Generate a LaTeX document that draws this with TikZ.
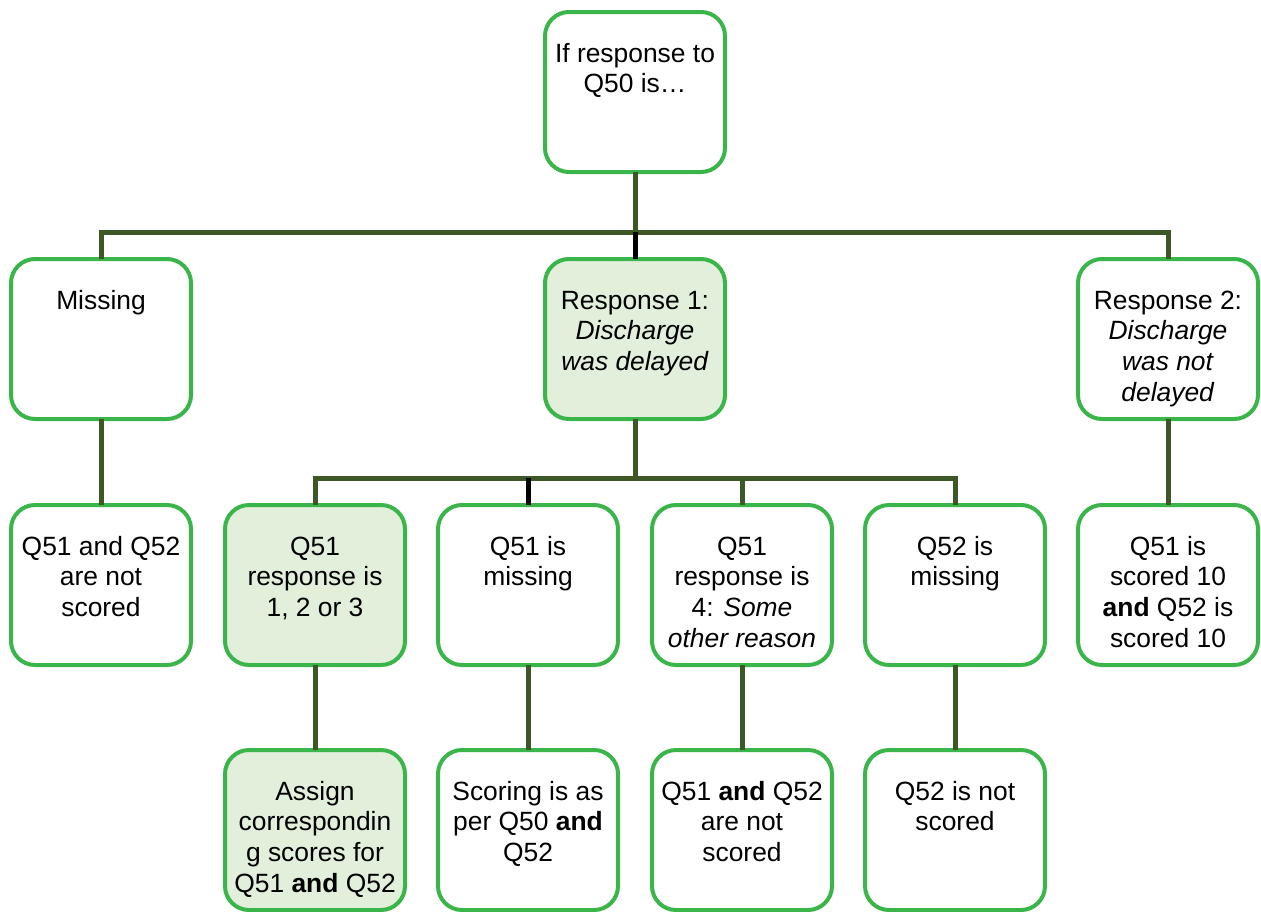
\documentclass[tikz,border=0pt]{standalone}
\usepackage{fontspec}
\setmainfont{Liberation Sans}
\definecolor{boxgreen}{RGB}{57,181,74}
\definecolor{boxfill}{RGB}{226,239,218}
\definecolor{connc}{RGB}{61,87,39}
\newcommand{\boxtext}[1]{\parbox[c][160pt][t]{180pt}{\centering\rule{0pt}{50pt}#1\par}}
\begin{document}
\begin{tikzpicture}[x=1pt,y=-1pt,
  box/.style={draw=boxgreen, line width=4pt, rounded corners=24pt, fill=white,
    minimum width=180pt, minimum height=160pt, inner sep=0pt, outer sep=0pt,
    font=\fontsize{26.4}{30.7}\selectfont},
  hl/.style={box, fill=boxfill},
  conn/.style={draw=connc, line width=5pt},
  connk/.style={draw=black, line width=5pt}]
\useasboundingbox (0,0) rectangle (1261,911);
\coordinate (b1) at (635,232);
\coordinate (b2) at (635,478);
% nodes
\node[box] (top) at (635,92) {\boxtext{If response to\\Q50 is…}};
\node[box] (miss) at (101,339) {\boxtext{Missing}};
\node[hl] (r1) at (635,339) {\boxtext{Response 1:\\\textit{Discharge}\\\textit{was delayed}}};
\node[box] (r2) at (1168,339) {\boxtext{Response 2:\\\textit{Discharge}\\\textit{was not}\\\textit{delayed}}};
\node[box] (m1) at (101,585) {\boxtext{Q51 and Q52\\are not\\scored}};
\node[hl] (a1) at (315,585) {\boxtext{Q51\\response is\\1, 2 or 3}};
\node[box] (a2) at (528,585) {\boxtext{Q51 is\\missing}};
\node[box] (a3) at (742,585) {\boxtext{Q51\\response is\\4: \textit{Some}\\\textit{other reason}}};
\node[box] (a4) at (955,585) {\boxtext{Q52 is\\missing}};
\node[box] (n1) at (1168,585) {\boxtext{Q51 is\\scored 10\\\textbf{and} Q52 is\\scored 10}};
\node[hl] (c1) at (315,830) {\boxtext{Assign\\correspondin\\g scores for\\Q51 \textbf{and} Q52}};
\node[box] (c2) at (528,830) {\boxtext{Scoring is as\\per Q50 \textbf{and}\\Q52}};
\node[box] (c3) at (742,830) {\boxtext{Q51 \textbf{and} Q52\\are not\\scored}};
\node[box] (c4) at (955,830) {\boxtext{Q52 is not\\scored}};
% connectors
\draw[conn] (top.south) -- (b1);
\draw[conn] (miss.north) |- (b1) -| (r2.north);
\draw[connk] (b1) -- (r1.north);
\draw[conn] (miss.south) -- (m1.north);
\draw[conn] (r2.south) -- (n1.north);
\draw[conn] (r1.south) -- (b2);
\draw[conn] (a1.north) |- (b2) -| (a4.north);
\draw[connk] (a2.north) -- (a2.north |- b2);
\draw[conn] (a3.north) -- (a3.north |- b2);
\draw[conn] (a1.south) -- (c1.north);
\draw[conn] (a2.south) -- (c2.north);
\draw[conn] (a3.south) -- (c3.north);
\draw[conn] (a4.south) -- (c4.north);
\end{tikzpicture}
\end{document}
